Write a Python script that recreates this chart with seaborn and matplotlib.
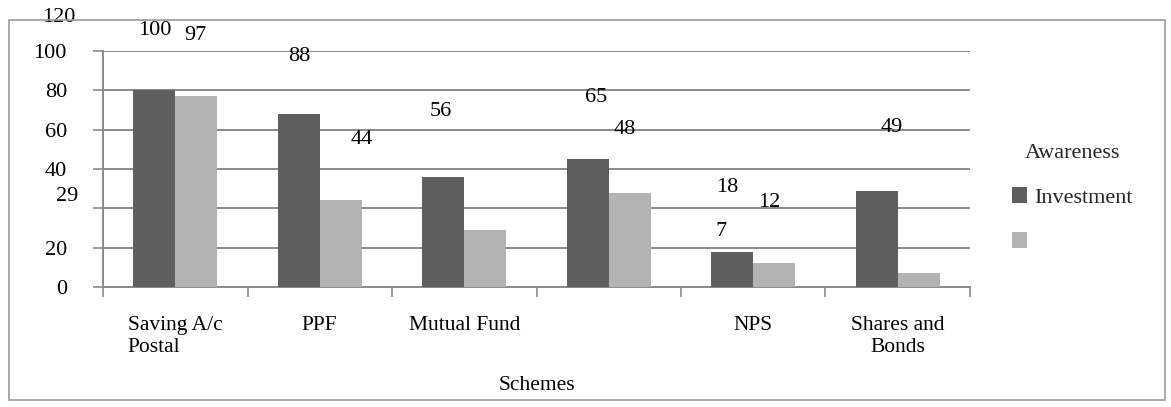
import numpy as np
import pandas as pd
import matplotlib
matplotlib.use("Agg")
import matplotlib.pyplot as plt
from matplotlib.patches import Rectangle
import seaborn as sns

# data
schemes = ["Saving A/c\nPostal", "PPF", "Mutual Fund", "", "NPS", "Shares and\nBonds"]
investment = [100, 88, 56, 65, 18, 49]
awareness = [97, 44, 29, 48, 12, 7]
series_names = ["Investment", "Awareness"]

# data labels as they sit in the picture (text, x in category units, y in data units)
label_text = ["100", "97", "88", "44", "56", "65", "48", "18", "12", "7", "49"]
label_x = [-0.14, 0.14, 0.86, 1.29, 1.84, 2.91, 3.11, 3.82, 4.11, 3.78, 4.96]
label_y = [130.5, 128, 117, 75, 89, 96.5, 80, 50.5, 43, 28, 81]

ytick_vals = [0, 20, 40, 60, 80, 100, 120]
ytick_text = ["0", "20", "", "40", "60", "80", "100"]

DARK = "#5f5f5f"
LIGHT = "#b3b3b3"
GRID = "#8a8a8a"
FS = 16

sns.set_theme(style="white")
plt.rcParams["font.family"] = ["Liberation Serif", "DejaVu Serif"]

df = pd.DataFrame({
    "scheme": list(range(len(schemes))) * 2,
    "series": [series_names[0]] * len(schemes) + [series_names[1]] * len(schemes),
    "value": investment + awareness,
})

fig = plt.figure(figsize=(11.71, 4.07), dpi=100)
fig.patches.append(Rectangle((9 / 1171, 1 - 400 / 407), 1156 / 1171, 380 / 407,
                             transform=fig.transFigure, fill=False,
                             edgecolor="#9a9a9a", linewidth=1.2))
ax = fig.add_axes([103 / 1171, 1 - 287 / 407, 867 / 1171, 236 / 407])

sns.barplot(data=df, x="scheme", y="value", hue="series", hue_order=series_names,
            palette=[DARK, LIGHT], width=0.58, gap=0, saturation=1,
            edgecolor="none", linewidth=0, ax=ax, zorder=3)

ax.set_ylim(0, 120)
ax.set_xlim(-0.5, len(schemes) - 0.5)
ax.set_yticks(ytick_vals)
ax.set_yticklabels(ytick_text)
ax.yaxis.grid(True, color=GRID, linewidth=1.4)
ax.set_axisbelow(True)
for s in ["top", "right"]:
    ax.spines[s].set_visible(False)
for s in ["left", "bottom"]:
    ax.spines[s].set_color(GRID)
    ax.spines[s].set_linewidth(1.4)

ax.tick_params(axis="y", which="major", left=True, length=7, width=1.2, color=GRID,
               pad=19, labelsize=FS, labelcolor="black")
ax.set_xticks(range(len(schemes)))
ax.set_xticklabels(schemes, fontsize=FS - 0.5, color="black")
ax.set_xticks(np.arange(-0.5, len(schemes)), minor=True)
ax.tick_params(axis="x", which="major", length=0, pad=21)
ax.tick_params(axis="x", which="minor", bottom=True, length=7, width=1.2, color=GRID)
xlabs = ax.get_xticklabels()
xlabs[0].set_multialignment("left")
xlabs[-1].set_multialignment("center")
ax.set_ylabel("")
ax.set_xlabel("Schemes", fontsize=FS - 0.5, color="black", labelpad=14)

# stray y labels above the axis
ax.text(-0.032, 137, "120", transform=ax.get_yaxis_transform(), ha="right", va="center",
        fontsize=FS, color="black", clip_on=False)
ax.text(-0.029, 46, "29", transform=ax.get_yaxis_transform(), ha="right", va="center",
        fontsize=FS, color="black", clip_on=False)

for t, x, y in zip(label_text, label_x, label_y):
    ax.text(x, y, t, ha="center", va="center", fontsize=FS, color="black", clip_on=False)

handles, _ = ax.get_legend_handles_labels()
leg = ax.legend(handles, ["Investment", ""], title="Awareness", loc="center left",
                bbox_to_anchor=(1.025, 0.375), frameon=False, fontsize=FS,
                title_fontsize=FS, handlelength=0.7, handleheight=0.7,
                handletextpad=0.3, labelspacing=1.1)

fig.savefig("out.png", dpi=100)
